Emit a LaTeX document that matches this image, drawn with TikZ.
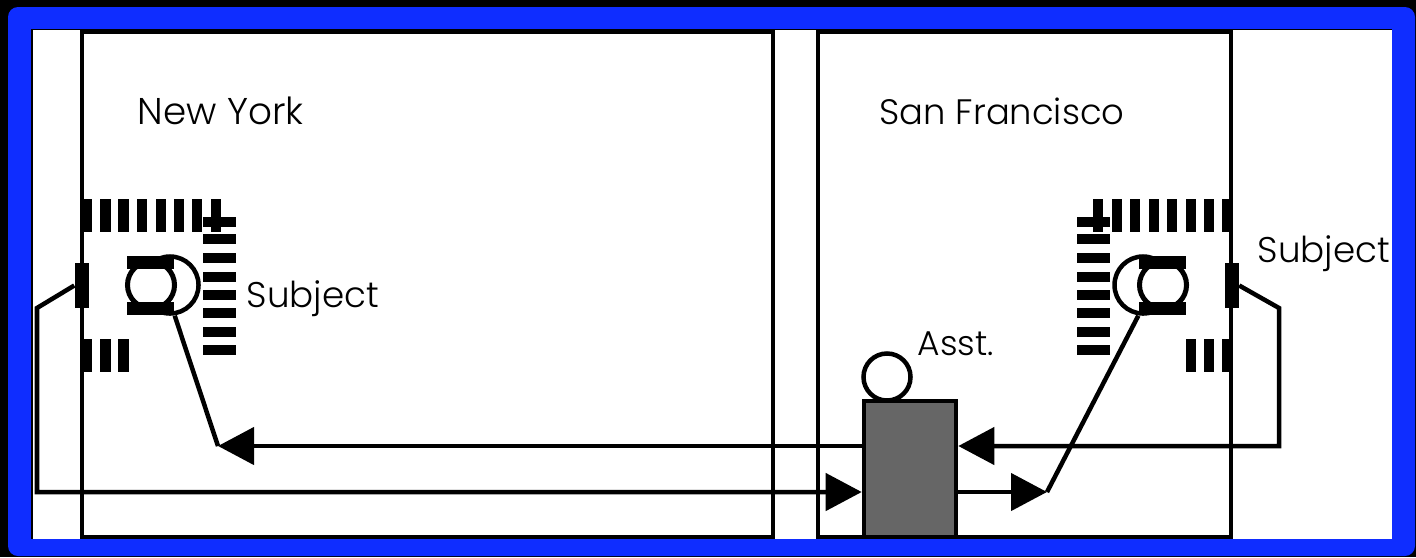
\documentclass[tikz,border=0pt]{standalone}
\usepackage{fontspec}
\setmainfont{Poppins Light}
\usetikzlibrary{arrows.meta, positioning, calc}
\definecolor{frameblue}{HTML}{0F2DFF}

\begin{document}
\begin{tikzpicture}[
    x=0.01cm, y=-0.01cm,
    room/.style={draw=black, line width=0.045cm},
    wire/.style={draw=black, line width=0.045cm},
    arrow/.style={wire, -{Triangle[length=0.36cm, width=0.37cm]}},
    place/.style={font=\fontsize{#1}{12pt}\selectfont, inner sep=0pt, anchor=base west},
    place/.default=10.15pt,
    bar/.style={fill=black, draw=none, inner sep=0pt},
    tick/.style={bar, minimum width=0.1cm, minimum height=0.33cm},
    rung/.style={bar, minimum width=0.33cm, minimum height=0.1cm},
    sensor/.style={bar, minimum width=0.14cm, minimum height=0.45cm},
    shade/.style={bar, minimum width=0.47cm, minimum height=0.13cm},
    head/.style={circle, draw=black, line width=0.05cm, fill=white, inner sep=0pt, minimum size=0.47cm},
    shoulder/.style={circle, draw=black, line width=0.045cm, fill=white, inner sep=0pt, minimum size=0.57cm},
    desk/.style={rectangle, draw=black, line width=0.045cm, fill=black!60, inner sep=0pt, minimum width=0.92cm, minimum height=1.36cm},
    asst/.style={circle, draw=black, line width=0.045cm, fill=white, inner sep=0pt, minimum size=0.47cm}
]
\useasboundingbox (0,0) rectangle (1416,557);

% Frame
\fill[black] (0,0) rectangle (1416,557);
\fill[frameblue, rounded corners=0.1cm] (8,7) rectangle (1415,556);
\fill[black] (31,29) rectangle (1392,539);
\fill[white] (33,30) rectangle (1392,539);

% Rooms
\draw[room] (82,32) rectangle (773,537);
\draw[room] (818,32) rectangle (1231,537);

% Labels
\node[place=10.6pt] (ny) at (137,124) {New York};
\node[place=10.05pt] (sf) at (879,124) {San Francisco};
\node[place] (subjA) at (246,307) {Subject};
\node[place] (subjB) at (1257,262) {Subject};
\node[place=9.8pt] (asstlabel) at (917,355) {Asst.};

% New York wall markers
\foreach \x in {87,105.5,123.5,142,160.5,178.5,197,215.5} {
    \node[tick] at (\x,215.5) {};
}
\foreach \x in {87,105.5,123.5} {
    \node[tick] at (\x,355.5) {};
}
\foreach \y in {221.5,239,258,276.5,294.5,312.5,331.5,349.5} {
    \node[rung] at (219.5,\y) {};
}

% San Francisco wall markers
\foreach \x in {1098,1117,1135,1153.5,1172,1190.5,1208.5,1227} {
    \node[tick] at (\x,215.5) {};
}
\foreach \x in {1190.5,1208.5,1227} {
    \node[tick] at (\x,355.5) {};
}
\foreach \y in {221.5,239,258,276.5,294.5,312.5,331.5,349.5} {
    \node[rung] at (1093.5,\y) {};
}

% New York subject
\node[shoulder] (shoulderA) at (170,285) {};
\node[head] (headA) at (151,285) {};
\node[shade] (shadeAtop) at (150.5,262.5) {};
\node[shade] (shadeAbot) at (150.5,308.5) {};

% San Francisco subject
\node[shoulder] (shoulderB) at (1143,285) {};
\node[head] (headB) at (1163,285) {};
\node[shade] (shadeBtop) at (1162.5,262.5) {};
\node[shade] (shadeBbot) at (1162.5,308.5) {};

% Sensors on the walls
\node[sensor] (sensorA) at (82,285.5) {};
\node[sensor] (sensorB) at (1231.5,285.5) {};

% Assistant and desk
\node[asst] (asstB) at (887,377) {};
\node[desk] (deskB) at (910,469) {};

% Bends
\coordinate (bendA) at (37,308);
\coordinate (bendB) at (1279,308);
\coordinate (cornerB) at (1279,446);
\coordinate (tipA) at (218,446);
\coordinate (tipB) at (1047,492);
\coordinate (cornerA) at (37,492);

% Connectors
\draw[arrow] (sensorA.west) -- (bendA) -- (cornerA) -- (deskB.west |- cornerA);
\draw[arrow] (sensorB.east) -- (bendB) -- (cornerB) -- (deskB.east |- cornerB);
\draw[arrow] (deskB.east |- tipB) -- (tipB);
\draw[wire] (tipB) -- (shadeBbot.south west);
\draw[arrow] (deskB.west |- tipA) -- (tipA);
\draw[wire] (tipA) -- (shadeAbot.south east);

\end{tikzpicture}
\end{document}
